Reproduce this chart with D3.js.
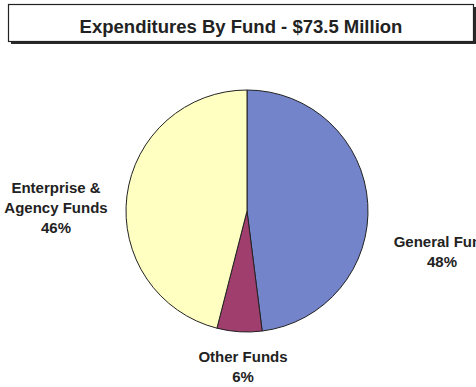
<!DOCTYPE html>
<html>
<head>
<meta charset="utf-8">
<script src="https://cdn.jsdelivr.net/npm/d3@7"></script>
<style>
  html, body { margin: 0; padding: 0; background: #ffffff; }
  svg { display: block; }
  text { font-family: "Liberation Sans", Arial, sans-serif; font-weight: bold; fill: #222; }
</style>
</head>
<body>
<div id="chart"></div>
<script>
// Expenditures by fund, share of total (%)
const title = "Expenditures By Fund - $73.5 Million";
const funds = ["General Fund", "Other Funds", "Enterprise & Agency Funds"];
const shares = [48, 6, 46];
const fills = ["#7484ca", "#a03e6e", "#ffffc2"];
// label lines for each fund (name lines, then the share)
const labelLines = [
  ["General Fund"],
  ["Other Funds"],
  ["Enterprise &", "Agency Funds"]
];

const W = 476, H = 387;
const cx = 247, cy = 211, R = 121;

const svg = d3.select("#chart").append("svg")
  .attr("width", W).attr("height", H);

// Title box with drop shadow
svg.append("rect")
  .attr("x", 11).attr("y", 7).attr("width", 465).attr("height", 37)
  .attr("fill", "#2a2a2a");
svg.append("rect")
  .attr("x", 8.5).attr("y", 4.5).attr("width", 465).attr("height", 37)
  .attr("fill", "#fff").attr("stroke", "#222").attr("stroke-width", 1.2);
svg.append("text")
  .attr("x", 241).attr("y", 33)
  .attr("text-anchor", "middle")
  .style("font-size", "18.5px")
  .text(title);

// Pie, starting at 12 o'clock and running clockwise
const data = funds.map((f, i) => ({ fund: f, share: shares[i], fill: fills[i], lines: labelLines[i] }));
const pie = d3.pie().value(d => d.share).sort(null);
const arc = d3.arc().innerRadius(0).outerRadius(R);
const arcs = pie(data);

const g = svg.append("g").attr("transform", `translate(${cx},${cy})`);
g.selectAll("path.slice")
  .data(arcs)
  .join("path")
  .attr("class", "slice")
  .attr("d", arc)
  .attr("fill", d => d.data.fill)
  .attr("stroke", "#222")
  .attr("stroke-width", 1)
  .attr("stroke-linejoin", "round");

// Label anchor points (centre x, first baseline) for each fund
const labelPos = [
  { x: 442, y: 247 },
  { x: 243, y: 362 },
  { x: 56, y: 193 }
];
const lineGap = 20;

const labels = svg.selectAll("text.lbl")
  .data(arcs)
  .join("text")
  .attr("class", "lbl")
  .attr("text-anchor", "middle")
  .style("font-size", "15px")
  .attr("x", (d, i) => labelPos[i].x)
  .attr("y", (d, i) => labelPos[i].y);

labels.each(function(d, i) {
  const t = d3.select(this);
  const lines = d.data.lines.concat([d3.format("d")(d.data.share) + "%"]);
  lines.forEach((ln, k) => {
    t.append("tspan")
      .attr("x", labelPos[i].x)
      .attr("dy", k === 0 ? 0 : lineGap)
      .text(ln);
  });
});
</script>
</body>
</html>
